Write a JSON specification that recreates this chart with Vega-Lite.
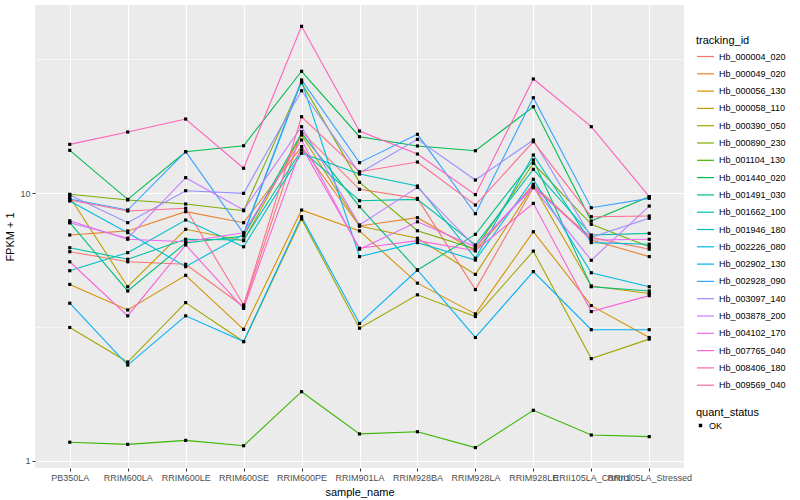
{
"$schema": "https://vega.github.io/schema/vega-lite/v6.json",
"width": 649, "height": 463,
"autosize": {"type": "none"},
"padding": {"left": 35, "top": 5, "right": 116, "bottom": 32},
"background": "white",
"config": {
  "view": {"fill": "#EBEBEB", "stroke": null},
  "font": "Liberation Sans",
  "axis": {"domain": false, "gridColor": "white", "gridWidth": 1.1, "tickColor": "#333333", "tickSize": 3, "tickWidth": 1, "labelColor": "#4D4D4D", "labelFontSize": 9, "labelPadding": 2, "titleFontSize": 11, "titleFontWeight": "normal", "titleColor": "black"},
  "legend": {"titleFontSize": 11, "titleFontWeight": "normal", "titleColor": "black", "labelFontSize": 9, "labelColor": "black", "titlePadding": 1, "rowPadding": 2.3}
},
"data": {"values": [
{"tracking_id":"Hb_000004_020","sample_name":"PB350LA","fpkm":6.04,"quant_status":"OK"},
{"tracking_id":"Hb_000004_020","sample_name":"RRIM600LA","fpkm":5.54,"quant_status":"OK"},
{"tracking_id":"Hb_000004_020","sample_name":"RRIM600LE","fpkm":5.42,"quant_status":"OK"},
{"tracking_id":"Hb_000004_020","sample_name":"RRIM600SE","fpkm":3.77,"quant_status":"OK"},
{"tracking_id":"Hb_000004_020","sample_name":"RRIM600PE","fpkm":16.93,"quant_status":"OK"},
{"tracking_id":"Hb_000004_020","sample_name":"RRIM901LA","fpkm":10.32,"quant_status":"OK"},
{"tracking_id":"Hb_000004_020","sample_name":"RRIM928BA","fpkm":9.55,"quant_status":"OK"},
{"tracking_id":"Hb_000004_020","sample_name":"RRIM928LA","fpkm":4.36,"quant_status":"OK"},
{"tracking_id":"Hb_000004_020","sample_name":"RRIM928LE","fpkm":10.47,"quant_status":"OK"},
{"tracking_id":"Hb_000004_020","sample_name":"RRII105LA_Control","fpkm":6.83,"quant_status":"OK"},
{"tracking_id":"Hb_000004_020","sample_name":"RRII105LA_Stressed","fpkm":6.17,"quant_status":"OK"},
{"tracking_id":"Hb_000049_020","sample_name":"PB350LA","fpkm":6.97,"quant_status":"OK"},
{"tracking_id":"Hb_000049_020","sample_name":"RRIM600LA","fpkm":7.22,"quant_status":"OK"},
{"tracking_id":"Hb_000049_020","sample_name":"RRIM600LE","fpkm":8.52,"quant_status":"OK"},
{"tracking_id":"Hb_000049_020","sample_name":"RRIM600SE","fpkm":7.75,"quant_status":"OK"},
{"tracking_id":"Hb_000049_020","sample_name":"RRIM600PE","fpkm":14.89,"quant_status":"OK"},
{"tracking_id":"Hb_000049_020","sample_name":"RRIM901LA","fpkm":7.53,"quant_status":"OK"},
{"tracking_id":"Hb_000049_020","sample_name":"RRIM928BA","fpkm":8.09,"quant_status":"OK"},
{"tracking_id":"Hb_000049_020","sample_name":"RRIM928LA","fpkm":6.09,"quant_status":"OK"},
{"tracking_id":"Hb_000049_020","sample_name":"RRIM928LE","fpkm":10.78,"quant_status":"OK"},
{"tracking_id":"Hb_000049_020","sample_name":"RRII105LA_Control","fpkm":6.68,"quant_status":"OK"},
{"tracking_id":"Hb_000049_020","sample_name":"RRII105LA_Stressed","fpkm":5.79,"quant_status":"OK"},
{"tracking_id":"Hb_000056_130","sample_name":"PB350LA","fpkm":4.56,"quant_status":"OK"},
{"tracking_id":"Hb_000056_130","sample_name":"RRIM600LA","fpkm":3.66,"quant_status":"OK"},
{"tracking_id":"Hb_000056_130","sample_name":"RRIM600LE","fpkm":4.93,"quant_status":"OK"},
{"tracking_id":"Hb_000056_130","sample_name":"RRIM600SE","fpkm":3.10,"quant_status":"OK"},
{"tracking_id":"Hb_000056_130","sample_name":"RRIM600PE","fpkm":8.64,"quant_status":"OK"},
{"tracking_id":"Hb_000056_130","sample_name":"RRIM901LA","fpkm":7.22,"quant_status":"OK"},
{"tracking_id":"Hb_000056_130","sample_name":"RRIM928BA","fpkm":4.61,"quant_status":"OK"},
{"tracking_id":"Hb_000056_130","sample_name":"RRIM928LA","fpkm":3.54,"quant_status":"OK"},
{"tracking_id":"Hb_000056_130","sample_name":"RRIM928LE","fpkm":7.17,"quant_status":"OK"},
{"tracking_id":"Hb_000056_130","sample_name":"RRII105LA_Control","fpkm":3.80,"quant_status":"OK"},
{"tracking_id":"Hb_000056_130","sample_name":"RRII105LA_Stressed","fpkm":2.89,"quant_status":"OK"},
{"tracking_id":"Hb_000058_110","sample_name":"PB350LA","fpkm":9.66,"quant_status":"OK"},
{"tracking_id":"Hb_000058_110","sample_name":"RRIM600LA","fpkm":4.47,"quant_status":"OK"},
{"tracking_id":"Hb_000058_110","sample_name":"RRIM600LE","fpkm":7.32,"quant_status":"OK"},
{"tracking_id":"Hb_000058_110","sample_name":"RRIM600SE","fpkm":6.64,"quant_status":"OK"},
{"tracking_id":"Hb_000058_110","sample_name":"RRIM600PE","fpkm":16.46,"quant_status":"OK"},
{"tracking_id":"Hb_000058_110","sample_name":"RRIM901LA","fpkm":7.53,"quant_status":"OK"},
{"tracking_id":"Hb_000058_110","sample_name":"RRIM928BA","fpkm":6.78,"quant_status":"OK"},
{"tracking_id":"Hb_000058_110","sample_name":"RRIM928LA","fpkm":4.97,"quant_status":"OK"},
{"tracking_id":"Hb_000058_110","sample_name":"RRIM928LE","fpkm":10.62,"quant_status":"OK"},
{"tracking_id":"Hb_000058_110","sample_name":"RRII105LA_Control","fpkm":4.50,"quant_status":"OK"},
{"tracking_id":"Hb_000058_110","sample_name":"RRII105LA_Stressed","fpkm":4.22,"quant_status":"OK"},
{"tracking_id":"Hb_000390_050","sample_name":"PB350LA","fpkm":3.15,"quant_status":"OK"},
{"tracking_id":"Hb_000390_050","sample_name":"RRIM600LA","fpkm":2.34,"quant_status":"OK"},
{"tracking_id":"Hb_000390_050","sample_name":"RRIM600LE","fpkm":3.90,"quant_status":"OK"},
{"tracking_id":"Hb_000390_050","sample_name":"RRIM600SE","fpkm":2.79,"quant_status":"OK"},
{"tracking_id":"Hb_000390_050","sample_name":"RRIM600PE","fpkm":8.00,"quant_status":"OK"},
{"tracking_id":"Hb_000390_050","sample_name":"RRIM901LA","fpkm":3.13,"quant_status":"OK"},
{"tracking_id":"Hb_000390_050","sample_name":"RRIM928BA","fpkm":4.17,"quant_status":"OK"},
{"tracking_id":"Hb_000390_050","sample_name":"RRIM928LA","fpkm":3.46,"quant_status":"OK"},
{"tracking_id":"Hb_000390_050","sample_name":"RRIM928LE","fpkm":6.07,"quant_status":"OK"},
{"tracking_id":"Hb_000390_050","sample_name":"RRII105LA_Control","fpkm":2.41,"quant_status":"OK"},
{"tracking_id":"Hb_000390_050","sample_name":"RRII105LA_Stressed","fpkm":2.85,"quant_status":"OK"},
{"tracking_id":"Hb_000890_230","sample_name":"PB350LA","fpkm":9.89,"quant_status":"OK"},
{"tracking_id":"Hb_000890_230","sample_name":"RRIM600LA","fpkm":9.42,"quant_status":"OK"},
{"tracking_id":"Hb_000890_230","sample_name":"RRIM600LE","fpkm":9.10,"quant_status":"OK"},
{"tracking_id":"Hb_000890_230","sample_name":"RRIM600SE","fpkm":8.59,"quant_status":"OK"},
{"tracking_id":"Hb_000890_230","sample_name":"RRIM600PE","fpkm":25.80,"quant_status":"OK"},
{"tracking_id":"Hb_000890_230","sample_name":"RRIM901LA","fpkm":10.96,"quant_status":"OK"},
{"tracking_id":"Hb_000890_230","sample_name":"RRIM928BA","fpkm":7.23,"quant_status":"OK"},
{"tracking_id":"Hb_000890_230","sample_name":"RRIM928LA","fpkm":6.18,"quant_status":"OK"},
{"tracking_id":"Hb_000890_230","sample_name":"RRIM928LE","fpkm":12.91,"quant_status":"OK"},
{"tracking_id":"Hb_000890_230","sample_name":"RRII105LA_Control","fpkm":7.64,"quant_status":"OK"},
{"tracking_id":"Hb_000890_230","sample_name":"RRII105LA_Stressed","fpkm":6.30,"quant_status":"OK"},
{"tracking_id":"Hb_001104_130","sample_name":"PB350LA","fpkm":1.175,"quant_status":"OK"},
{"tracking_id":"Hb_001104_130","sample_name":"RRIM600LA","fpkm":1.154,"quant_status":"OK"},
{"tracking_id":"Hb_001104_130","sample_name":"RRIM600LE","fpkm":1.194,"quant_status":"OK"},
{"tracking_id":"Hb_001104_130","sample_name":"RRIM600SE","fpkm":1.14,"quant_status":"OK"},
{"tracking_id":"Hb_001104_130","sample_name":"RRIM600PE","fpkm":1.814,"quant_status":"OK"},
{"tracking_id":"Hb_001104_130","sample_name":"RRIM901LA","fpkm":1.262,"quant_status":"OK"},
{"tracking_id":"Hb_001104_130","sample_name":"RRIM928BA","fpkm":1.286,"quant_status":"OK"},
{"tracking_id":"Hb_001104_130","sample_name":"RRIM928LA","fpkm":1.122,"quant_status":"OK"},
{"tracking_id":"Hb_001104_130","sample_name":"RRIM928LE","fpkm":1.546,"quant_status":"OK"},
{"tracking_id":"Hb_001104_130","sample_name":"RRII105LA_Control","fpkm":1.25,"quant_status":"OK"},
{"tracking_id":"Hb_001104_130","sample_name":"RRII105LA_Stressed","fpkm":1.233,"quant_status":"OK"},
{"tracking_id":"Hb_001440_020","sample_name":"PB350LA","fpkm":14.43,"quant_status":"OK"},
{"tracking_id":"Hb_001440_020","sample_name":"RRIM600LA","fpkm":9.47,"quant_status":"OK"},
{"tracking_id":"Hb_001440_020","sample_name":"RRIM600LE","fpkm":14.26,"quant_status":"OK"},
{"tracking_id":"Hb_001440_020","sample_name":"RRIM600SE","fpkm":15.01,"quant_status":"OK"},
{"tracking_id":"Hb_001440_020","sample_name":"RRIM600PE","fpkm":28.46,"quant_status":"OK"},
{"tracking_id":"Hb_001440_020","sample_name":"RRIM901LA","fpkm":16.22,"quant_status":"OK"},
{"tracking_id":"Hb_001440_020","sample_name":"RRIM928BA","fpkm":14.98,"quant_status":"OK"},
{"tracking_id":"Hb_001440_020","sample_name":"RRIM928LA","fpkm":14.38,"quant_status":"OK"},
{"tracking_id":"Hb_001440_020","sample_name":"RRIM928LE","fpkm":20.99,"quant_status":"OK"},
{"tracking_id":"Hb_001440_020","sample_name":"RRII105LA_Control","fpkm":7.86,"quant_status":"OK"},
{"tracking_id":"Hb_001440_020","sample_name":"RRII105LA_Stressed","fpkm":9.69,"quant_status":"OK"},
{"tracking_id":"Hb_001491_030","sample_name":"PB350LA","fpkm":7.75,"quant_status":"OK"},
{"tracking_id":"Hb_001491_030","sample_name":"RRIM600LA","fpkm":4.31,"quant_status":"OK"},
{"tracking_id":"Hb_001491_030","sample_name":"RRIM600LE","fpkm":6.51,"quant_status":"OK"},
{"tracking_id":"Hb_001491_030","sample_name":"RRIM600SE","fpkm":6.91,"quant_status":"OK"},
{"tracking_id":"Hb_001491_030","sample_name":"RRIM600PE","fpkm":16.70,"quant_status":"OK"},
{"tracking_id":"Hb_001491_030","sample_name":"RRIM901LA","fpkm":8.89,"quant_status":"OK"},
{"tracking_id":"Hb_001491_030","sample_name":"RRIM928BA","fpkm":5.16,"quant_status":"OK"},
{"tracking_id":"Hb_001491_030","sample_name":"RRIM928LA","fpkm":7.01,"quant_status":"OK"},
{"tracking_id":"Hb_001491_030","sample_name":"RRIM928LE","fpkm":13.28,"quant_status":"OK"},
{"tracking_id":"Hb_001491_030","sample_name":"RRII105LA_Control","fpkm":4.47,"quant_status":"OK"},
{"tracking_id":"Hb_001491_030","sample_name":"RRII105LA_Stressed","fpkm":4.31,"quant_status":"OK"},
{"tracking_id":"Hb_001662_100","sample_name":"PB350LA","fpkm":6.25,"quant_status":"OK"},
{"tracking_id":"Hb_001662_100","sample_name":"RRIM600LA","fpkm":5.66,"quant_status":"OK"},
{"tracking_id":"Hb_001662_100","sample_name":"RRIM600LE","fpkm":6.72,"quant_status":"OK"},
{"tracking_id":"Hb_001662_100","sample_name":"RRIM600SE","fpkm":6.68,"quant_status":"OK"},
{"tracking_id":"Hb_001662_100","sample_name":"RRIM600PE","fpkm":14.47,"quant_status":"OK"},
{"tracking_id":"Hb_001662_100","sample_name":"RRIM901LA","fpkm":9.36,"quant_status":"OK"},
{"tracking_id":"Hb_001662_100","sample_name":"RRIM928BA","fpkm":9.47,"quant_status":"OK"},
{"tracking_id":"Hb_001662_100","sample_name":"RRIM928LA","fpkm":6.40,"quant_status":"OK"},
{"tracking_id":"Hb_001662_100","sample_name":"RRIM928LE","fpkm":12.26,"quant_status":"OK"},
{"tracking_id":"Hb_001662_100","sample_name":"RRII105LA_Control","fpkm":6.97,"quant_status":"OK"},
{"tracking_id":"Hb_001662_100","sample_name":"RRII105LA_Stressed","fpkm":7.07,"quant_status":"OK"},
{"tracking_id":"Hb_001946_180","sample_name":"PB350LA","fpkm":5.13,"quant_status":"OK"},
{"tracking_id":"Hb_001946_180","sample_name":"RRIM600LA","fpkm":5.99,"quant_status":"OK"},
{"tracking_id":"Hb_001946_180","sample_name":"RRIM600LE","fpkm":7.93,"quant_status":"OK"},
{"tracking_id":"Hb_001946_180","sample_name":"RRIM600SE","fpkm":6.30,"quant_status":"OK"},
{"tracking_id":"Hb_001946_180","sample_name":"RRIM600PE","fpkm":14.07,"quant_status":"OK"},
{"tracking_id":"Hb_001946_180","sample_name":"RRIM901LA","fpkm":11.77,"quant_status":"OK"},
{"tracking_id":"Hb_001946_180","sample_name":"RRIM928BA","fpkm":10.62,"quant_status":"OK"},
{"tracking_id":"Hb_001946_180","sample_name":"RRIM928LA","fpkm":5.71,"quant_status":"OK"},
{"tracking_id":"Hb_001946_180","sample_name":"RRIM928LE","fpkm":13.86,"quant_status":"OK"},
{"tracking_id":"Hb_001946_180","sample_name":"RRII105LA_Control","fpkm":6.53,"quant_status":"OK"},
{"tracking_id":"Hb_001946_180","sample_name":"RRII105LA_Stressed","fpkm":6.44,"quant_status":"OK"},
{"tracking_id":"Hb_002226_080","sample_name":"PB350LA","fpkm":9.34,"quant_status":"OK"},
{"tracking_id":"Hb_002226_080","sample_name":"RRIM600LA","fpkm":7.11,"quant_status":"OK"},
{"tracking_id":"Hb_002226_080","sample_name":"RRIM600LE","fpkm":5.31,"quant_status":"OK"},
{"tracking_id":"Hb_002226_080","sample_name":"RRIM600SE","fpkm":7.01,"quant_status":"OK"},
{"tracking_id":"Hb_002226_080","sample_name":"RRIM600PE","fpkm":26.11,"quant_status":"OK"},
{"tracking_id":"Hb_002226_080","sample_name":"RRIM901LA","fpkm":5.79,"quant_status":"OK"},
{"tracking_id":"Hb_002226_080","sample_name":"RRIM928BA","fpkm":6.53,"quant_status":"OK"},
{"tracking_id":"Hb_002226_080","sample_name":"RRIM928LA","fpkm":5.62,"quant_status":"OK"},
{"tracking_id":"Hb_002226_080","sample_name":"RRIM928LE","fpkm":11.25,"quant_status":"OK"},
{"tracking_id":"Hb_002226_080","sample_name":"RRII105LA_Control","fpkm":5.04,"quant_status":"OK"},
{"tracking_id":"Hb_002226_080","sample_name":"RRII105LA_Stressed","fpkm":4.47,"quant_status":"OK"},
{"tracking_id":"Hb_002902_130","sample_name":"PB350LA","fpkm":3.88,"quant_status":"OK"},
{"tracking_id":"Hb_002902_130","sample_name":"RRIM600LA","fpkm":2.28,"quant_status":"OK"},
{"tracking_id":"Hb_002902_130","sample_name":"RRIM600LE","fpkm":3.48,"quant_status":"OK"},
{"tracking_id":"Hb_002902_130","sample_name":"RRIM600SE","fpkm":2.79,"quant_status":"OK"},
{"tracking_id":"Hb_002902_130","sample_name":"RRIM600PE","fpkm":8.16,"quant_status":"OK"},
{"tracking_id":"Hb_002902_130","sample_name":"RRIM901LA","fpkm":3.26,"quant_status":"OK"},
{"tracking_id":"Hb_002902_130","sample_name":"RRIM928BA","fpkm":5.16,"quant_status":"OK"},
{"tracking_id":"Hb_002902_130","sample_name":"RRIM928LA","fpkm":2.89,"quant_status":"OK"},
{"tracking_id":"Hb_002902_130","sample_name":"RRIM928LE","fpkm":5.09,"quant_status":"OK"},
{"tracking_id":"Hb_002902_130","sample_name":"RRII105LA_Control","fpkm":3.09,"quant_status":"OK"},
{"tracking_id":"Hb_002902_130","sample_name":"RRII105LA_Stressed","fpkm":3.09,"quant_status":"OK"},
{"tracking_id":"Hb_002928_090","sample_name":"PB350LA","fpkm":9.50,"quant_status":"OK"},
{"tracking_id":"Hb_002928_090","sample_name":"RRIM600LA","fpkm":8.64,"quant_status":"OK"},
{"tracking_id":"Hb_002928_090","sample_name":"RRIM600LE","fpkm":14.26,"quant_status":"OK"},
{"tracking_id":"Hb_002928_090","sample_name":"RRIM600SE","fpkm":7.07,"quant_status":"OK"},
{"tracking_id":"Hb_002928_090","sample_name":"RRIM600PE","fpkm":26.41,"quant_status":"OK"},
{"tracking_id":"Hb_002928_090","sample_name":"RRIM901LA","fpkm":12.98,"quant_status":"OK"},
{"tracking_id":"Hb_002928_090","sample_name":"RRIM928BA","fpkm":16.56,"quant_status":"OK"},
{"tracking_id":"Hb_002928_090","sample_name":"RRIM928LA","fpkm":8.37,"quant_status":"OK"},
{"tracking_id":"Hb_002928_090","sample_name":"RRIM928LE","fpkm":22.68,"quant_status":"OK"},
{"tracking_id":"Hb_002928_090","sample_name":"RRII105LA_Control","fpkm":8.81,"quant_status":"OK"},
{"tracking_id":"Hb_002928_090","sample_name":"RRII105LA_Stressed","fpkm":9.55,"quant_status":"OK"},
{"tracking_id":"Hb_003097_140","sample_name":"PB350LA","fpkm":9.83,"quant_status":"OK"},
{"tracking_id":"Hb_003097_140","sample_name":"RRIM600LA","fpkm":7.75,"quant_status":"OK"},
{"tracking_id":"Hb_003097_140","sample_name":"RRIM600LE","fpkm":10.20,"quant_status":"OK"},
{"tracking_id":"Hb_003097_140","sample_name":"RRIM600SE","fpkm":9.97,"quant_status":"OK"},
{"tracking_id":"Hb_003097_140","sample_name":"RRIM600PE","fpkm":24.08,"quant_status":"OK"},
{"tracking_id":"Hb_003097_140","sample_name":"RRIM901LA","fpkm":11.88,"quant_status":"OK"},
{"tracking_id":"Hb_003097_140","sample_name":"RRIM928BA","fpkm":15.86,"quant_status":"OK"},
{"tracking_id":"Hb_003097_140","sample_name":"RRIM928LA","fpkm":11.18,"quant_status":"OK"},
{"tracking_id":"Hb_003097_140","sample_name":"RRIM928LE","fpkm":15.77,"quant_status":"OK"},
{"tracking_id":"Hb_003097_140","sample_name":"RRII105LA_Control","fpkm":6.83,"quant_status":"OK"},
{"tracking_id":"Hb_003097_140","sample_name":"RRII105LA_Stressed","fpkm":8.05,"quant_status":"OK"},
{"tracking_id":"Hb_003878_200","sample_name":"PB350LA","fpkm":7.75,"quant_status":"OK"},
{"tracking_id":"Hb_003878_200","sample_name":"RRIM600LA","fpkm":6.78,"quant_status":"OK"},
{"tracking_id":"Hb_003878_200","sample_name":"RRIM600LE","fpkm":11.41,"quant_status":"OK"},
{"tracking_id":"Hb_003878_200","sample_name":"RRIM600SE","fpkm":8.64,"quant_status":"OK"},
{"tracking_id":"Hb_003878_200","sample_name":"RRIM600PE","fpkm":17.68,"quant_status":"OK"},
{"tracking_id":"Hb_003878_200","sample_name":"RRIM901LA","fpkm":7.60,"quant_status":"OK"},
{"tracking_id":"Hb_003878_200","sample_name":"RRIM928BA","fpkm":10.50,"quant_status":"OK"},
{"tracking_id":"Hb_003878_200","sample_name":"RRIM928LA","fpkm":6.30,"quant_status":"OK"},
{"tracking_id":"Hb_003878_200","sample_name":"RRIM928LE","fpkm":10.50,"quant_status":"OK"},
{"tracking_id":"Hb_003878_200","sample_name":"RRII105LA_Control","fpkm":5.61,"quant_status":"OK"},
{"tracking_id":"Hb_003878_200","sample_name":"RRII105LA_Stressed","fpkm":8.94,"quant_status":"OK"},
{"tracking_id":"Hb_004102_170","sample_name":"PB350LA","fpkm":7.88,"quant_status":"OK"},
{"tracking_id":"Hb_004102_170","sample_name":"RRIM600LA","fpkm":6.72,"quant_status":"OK"},
{"tracking_id":"Hb_004102_170","sample_name":"RRIM600LE","fpkm":6.58,"quant_status":"OK"},
{"tracking_id":"Hb_004102_170","sample_name":"RRIM600SE","fpkm":7.11,"quant_status":"OK"},
{"tracking_id":"Hb_004102_170","sample_name":"RRIM600PE","fpkm":15.77,"quant_status":"OK"},
{"tracking_id":"Hb_004102_170","sample_name":"RRIM901LA","fpkm":6.17,"quant_status":"OK"},
{"tracking_id":"Hb_004102_170","sample_name":"RRIM928BA","fpkm":7.81,"quant_status":"OK"},
{"tracking_id":"Hb_004102_170","sample_name":"RRIM928LA","fpkm":6.30,"quant_status":"OK"},
{"tracking_id":"Hb_004102_170","sample_name":"RRIM928LE","fpkm":10.62,"quant_status":"OK"},
{"tracking_id":"Hb_004102_170","sample_name":"RRII105LA_Control","fpkm":6.68,"quant_status":"OK"},
{"tracking_id":"Hb_004102_170","sample_name":"RRII105LA_Stressed","fpkm":6.72,"quant_status":"OK"},
{"tracking_id":"Hb_007765_040","sample_name":"PB350LA","fpkm":5.54,"quant_status":"OK"},
{"tracking_id":"Hb_007765_040","sample_name":"RRIM600LA","fpkm":3.48,"quant_status":"OK"},
{"tracking_id":"Hb_007765_040","sample_name":"RRIM600LE","fpkm":6.40,"quant_status":"OK"},
{"tracking_id":"Hb_007765_040","sample_name":"RRIM600SE","fpkm":3.71,"quant_status":"OK"},
{"tracking_id":"Hb_007765_040","sample_name":"RRIM600PE","fpkm":14.89,"quant_status":"OK"},
{"tracking_id":"Hb_007765_040","sample_name":"RRIM901LA","fpkm":6.22,"quant_status":"OK"},
{"tracking_id":"Hb_007765_040","sample_name":"RRIM928BA","fpkm":6.64,"quant_status":"OK"},
{"tracking_id":"Hb_007765_040","sample_name":"RRIM928LA","fpkm":6.09,"quant_status":"OK"},
{"tracking_id":"Hb_007765_040","sample_name":"RRIM928LE","fpkm":9.15,"quant_status":"OK"},
{"tracking_id":"Hb_007765_040","sample_name":"RRII105LA_Control","fpkm":3.61,"quant_status":"OK"},
{"tracking_id":"Hb_007765_040","sample_name":"RRII105LA_Stressed","fpkm":4.14,"quant_status":"OK"},
{"tracking_id":"Hb_008406_180","sample_name":"PB350LA","fpkm":15.19,"quant_status":"OK"},
{"tracking_id":"Hb_008406_180","sample_name":"RRIM600LA","fpkm":16.89,"quant_status":"OK"},
{"tracking_id":"Hb_008406_180","sample_name":"RRIM600LE","fpkm":18.88,"quant_status":"OK"},
{"tracking_id":"Hb_008406_180","sample_name":"RRIM600SE","fpkm":12.37,"quant_status":"OK"},
{"tracking_id":"Hb_008406_180","sample_name":"RRIM600PE","fpkm":41.88,"quant_status":"OK"},
{"tracking_id":"Hb_008406_180","sample_name":"RRIM901LA","fpkm":17.03,"quant_status":"OK"},
{"tracking_id":"Hb_008406_180","sample_name":"RRIM928BA","fpkm":13.98,"quant_status":"OK"},
{"tracking_id":"Hb_008406_180","sample_name":"RRIM928LA","fpkm":9.86,"quant_status":"OK"},
{"tracking_id":"Hb_008406_180","sample_name":"RRIM928LE","fpkm":26.64,"quant_status":"OK"},
{"tracking_id":"Hb_008406_180","sample_name":"RRII105LA_Control","fpkm":17.68,"quant_status":"OK"},
{"tracking_id":"Hb_008406_180","sample_name":"RRII105LA_Stressed","fpkm":9.69,"quant_status":"OK"},
{"tracking_id":"Hb_009569_040","sample_name":"PB350LA","fpkm":9.42,"quant_status":"OK"},
{"tracking_id":"Hb_009569_040","sample_name":"RRIM600LA","fpkm":8.57,"quant_status":"OK"},
{"tracking_id":"Hb_009569_040","sample_name":"RRIM600LE","fpkm":8.77,"quant_status":"OK"},
{"tracking_id":"Hb_009569_040","sample_name":"RRIM600SE","fpkm":3.82,"quant_status":"OK"},
{"tracking_id":"Hb_009569_040","sample_name":"RRIM600PE","fpkm":19.26,"quant_status":"OK"},
{"tracking_id":"Hb_009569_040","sample_name":"RRIM901LA","fpkm":12.01,"quant_status":"OK"},
{"tracking_id":"Hb_009569_040","sample_name":"RRIM928BA","fpkm":13.05,"quant_status":"OK"},
{"tracking_id":"Hb_009569_040","sample_name":"RRIM928LA","fpkm":9.02,"quant_status":"OK"},
{"tracking_id":"Hb_009569_040","sample_name":"RRIM928LE","fpkm":15.54,"quant_status":"OK"},
{"tracking_id":"Hb_009569_040","sample_name":"RRII105LA_Control","fpkm":8.16,"quant_status":"OK"},
{"tracking_id":"Hb_009569_040","sample_name":"RRII105LA_Stressed","fpkm":8.21,"quant_status":"OK"}
]},
"encoding": {
  "x": {"field": "sample_name", "type": "nominal",
        "sort": ["PB350LA","RRIM600LA","RRIM600LE","RRIM600SE","RRIM600PE","RRIM901LA","RRIM928BA","RRIM928LA","RRIM928LE","RRII105LA_Control","RRII105LA_Stressed"],
        "scale": {"type": "point", "padding": 0.6},
        "axis": {"title": "sample_name", "labelAngle": 0, "labelOverlap": false, "labelBound": false, "grid": true, "titlePadding": 4}},
  "y": {"field": "fpkm", "type": "quantitative",
        "scale": {"type": "log", "domain": [0.9416, 50.3], "nice": false, "zero": false},
        "axis": {"title": "FPKM + 1", "values": [1, 3.1623, 10, 31.623],
                 "labelExpr": "(datum.value > 0.99 && datum.value < 1.01) ? '1' : ((datum.value > 9.9 && datum.value < 10.1) ? '10' : '')",
                 "gridWidth": {"condition": {"test": "(datum.value > 0.99 && datum.value < 1.01) || (datum.value > 9.9 && datum.value < 10.1)", "value": 1.1}, "value": 0.55},
                 "tickOpacity": {"condition": {"test": "(datum.value > 0.99 && datum.value < 1.01) || (datum.value > 9.9 && datum.value < 10.1)", "value": 1}, "value": 0},
                 "titlePadding": 4}}
},
"layer": [
  {"mark": {"type": "line", "strokeWidth": 1.1},
   "encoding": {"color": {"field": "tracking_id", "type": "nominal",
      "scale": {"range": ["#F8766D","#EA8331","#D89000","#C09B00","#A3A500","#7CAE00","#39B600","#00BB4E","#00BF7D","#00C1A3","#00BFC4","#00BAE0","#00B0F6","#35A2FF","#9590FF","#C77CFF","#E76BF3","#FA62DB","#FF62BC","#FF6C91"]},
      "legend": {"title": "tracking_id", "orient": "none", "legendX": 661, "legendY": 30, "symbolType": "stroke", "symbolSize": 289, "symbolStrokeWidth": 1.2}}}},
  {"mark": {"type": "point", "filled": true, "size": 10, "color": "black", "opacity": 1},
   "encoding": {"shape": {"field": "quant_status", "type": "nominal",
      "scale": {"domain": ["OK"], "range": ["square"]},
      "legend": {"title": "quant_status", "orient": "none", "legendX": 661, "legendY": 402, "symbolFillColor": "black", "symbolStrokeColor": "black", "symbolSize": 12, "titlePadding": 3}}}}
]
}
